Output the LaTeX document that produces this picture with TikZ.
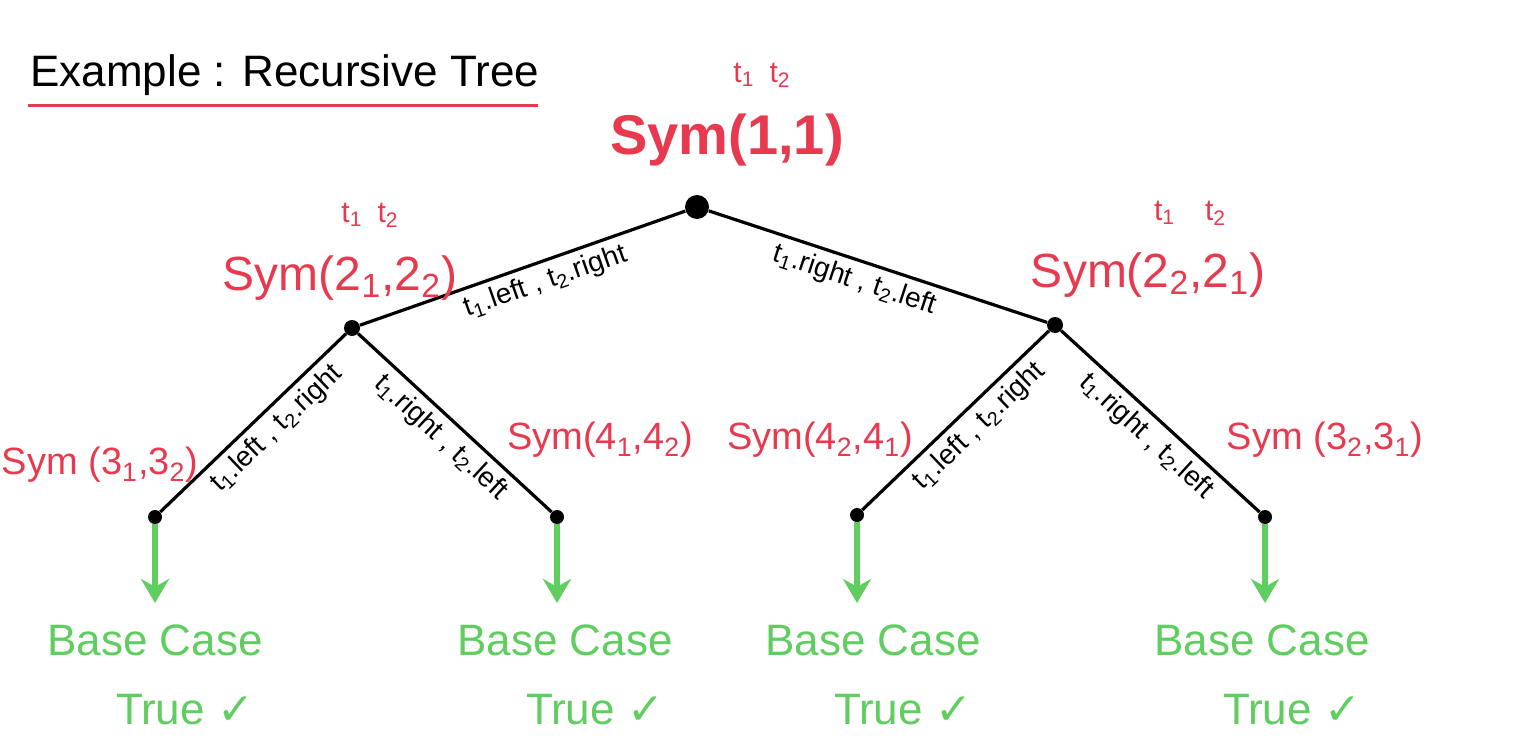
\documentclass[tikz,border=0pt]{standalone}
\usepackage{fontspec}
\setmainfont{Liberation Sans}
\newfontfamily\symf{DejaVu Sans}
\usetikzlibrary{arrows.meta}
\definecolor{hred}{RGB}{232,58,78}
\definecolor{hgreen}{RGB}{95,205,95}
\newcommand{\myss}[1]{\textsubscript{#1}}
\begin{document}
\begin{tikzpicture}[x=0.5pt,y=-0.5pt,
  dot/.style={circle,fill=black,inner sep=0pt,minimum size=#1},
  edge/.style={line width=1.6pt},
  elab/.style={sloped,below,font=\fontsize{14}{14}\selectfont,inner sep=3pt},
  symlab/.style={text=hred,font=\fontsize{19}{19}\selectfont,inner sep=0pt},
  sup/.style={text=hred,font=\fontsize{15}{15}\selectfont,inner sep=0pt},
  garrow/.style={hgreen,line width=3pt,-{Stealth[length=12pt,width=14pt]}},
  base/.style={text=hgreen,font=\fontsize{22}{22}\selectfont,inner sep=0pt}]
\useasboundingbox (0,0) rectangle (1518,754);
\node[anchor=west,font=\fontsize{22}{22}\selectfont,inner sep=0pt] (title) at (30,75) {Example : Recursive Tree};
\draw[hred,line width=1.5pt] (28,106) -- (538,106);
\node[dot=12pt] (r) at (697,207) {};
\node[dot=8pt] (a) at (352,328) {};
\node[dot=8pt] (b) at (1055,325) {};
\node[dot=7pt] (c) at (155,517) {};
\node[dot=7pt] (d) at (557,517) {};
\node[dot=7pt] (e) at (857,515) {};
\node[dot=7pt] (f) at (1265,517) {};
\draw[edge] (a) -- node[elab,pos=0.55]{t\myss{1}.left , t\myss{2}.right} (r);
\draw[edge] (r) -- node[elab,pos=0.45]{t\myss{1}.right , t\myss{2}.left} (b);
\draw[edge] (c) -- node[elab,pos=0.55]{t\myss{1}.left , t\myss{2}.right} (a);
\draw[edge] (a) -- node[elab,pos=0.5]{t\myss{1}.right , t\myss{2}.left} (d);
\draw[edge] (e) -- node[elab,pos=0.55]{t\myss{1}.left , t\myss{2}.right} (b);
\draw[edge] (b) -- node[elab,pos=0.5]{t\myss{1}.right , t\myss{2}.left} (f);
\node[symlab,font=\bfseries\fontsize{28}{28}\selectfont] (s1) at (727,140) {Sym(1,1)};
\node[sup] (s1a) at (762,75) {t\myss{1}\enspace t\myss{2}};
\node[symlab,font=\fontsize{24}{24}\selectfont] (s2) at (340,278) {Sym(2\myss{1},2\myss{2})};
\node[sup] (s2a) at (370,215) {t\myss{1}\enspace t\myss{2}};
\node[symlab,font=\fontsize{24}{24}\selectfont] (s3) at (1148,275) {Sym(2\myss{2},2\myss{1})};
\node[sup] (s3a) at (1190,213) {t\myss{1}\enspace\enspace t\myss{2}};
\node[symlab] (s4) at (100,465) {Sym (3\myss{1},3\myss{2})};
\node[symlab] (s5) at (600,440) {Sym(4\myss{1},4\myss{2})};
\node[symlab] (s6) at (820,440) {Sym(4\myss{2},4\myss{1})};
\node[symlab] (s7) at (1325,440) {Sym (3\myss{2},3\myss{1})};
\foreach \n/\x in {c/155,d/557,e/857,f/1265}{
  \coordinate (\n end) at (\x,603);
  \draw[garrow] (\n) -- (\n end);
}
\foreach \n/\x in {1/155,2/565,3/873,4/1262}{
  \node[base] (bc\n) at (\x,640) {Base Case};
  \node[base] (tr\n) at (\x+30,710) {True {\symf ✓}};
}
\end{tikzpicture}
\end{document}
